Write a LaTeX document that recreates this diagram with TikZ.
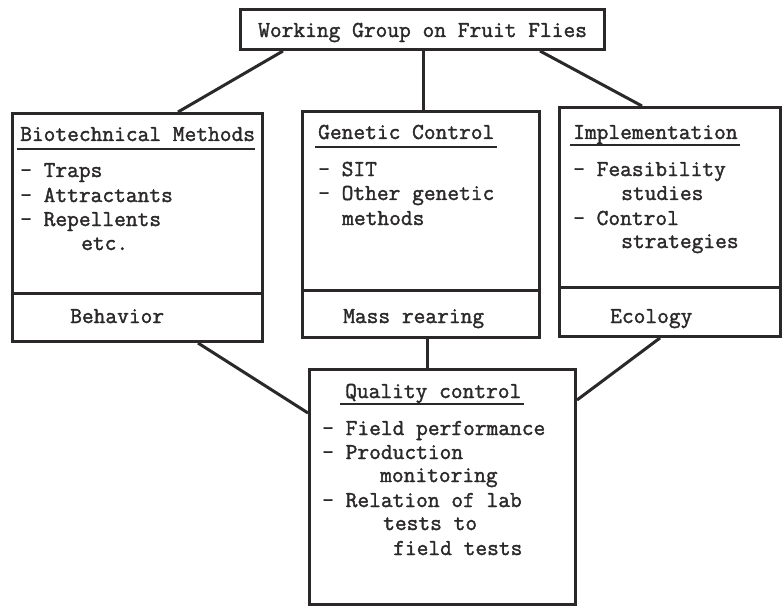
\documentclass[tikz,border=0pt]{standalone}
\usepackage{fontspec}
\usepackage{tikz}
\usetikzlibrary{calc}
\definecolor{ink}{RGB}{42,40,40}
\newfontfamily\twfont{lmmono12-regular.otf}[FakeBold=1.6]
\newcommand{\tw}{\fontsize{22.8}{24}\selectfont\twfont}
\tikzset{
  box/.style={draw=ink, line width=3pt, anchor=north west, inner sep=0pt},
  txt/.style={font=\tw, text=ink, anchor=base west, inner sep=0pt},
  conn/.style={ink, line width=3pt},
  uline/.style={ink, line width=2pt},
}

\begin{document}
\begin{tikzpicture}[x=1pt, y=-1pt]
  \useasboundingbox (0,0) rectangle (782,607);
  % boxes
  \node[box, minimum width=364pt, minimum height=40pt] (wg) at (239,8) {};
  \node[box, minimum width=250pt, minimum height=228pt] (bio) at (11,112) {};
  \node[box, minimum width=237pt, minimum height=226pt] (gen) at (301,110) {};
  \node[box, minimum width=221pt, minimum height=229pt] (imp) at (558,106) {};
  \node[box, minimum width=266pt, minimum height=235pt] (qc) at (308,368) {};
  \draw[conn] (bio.west |- 0,293) -- (bio.east |- 0,293);
  \draw[conn] (gen.west |- 0,290) -- (gen.east |- 0,290);
  \draw[conn] (imp.west |- 0,287) -- (imp.east |- 0,287);
  % connectors
  \draw[conn] ([xshift=44pt]wg.south west) -- ([xshift=167pt]bio.north west);
  \draw[conn] ([xshift=184pt]wg.south west) -- ([xshift=122pt]gen.north west);
  \draw[conn] ([xshift=301pt]wg.south west) -- ([xshift=84pt]imp.north west);
  \draw[conn] ([xshift=187pt]bio.south west) -- ([yshift=-45pt]qc.north west);
  \draw[conn] ([xshift=126pt]gen.south west) -- ([xshift=119pt]qc.north west);
  \draw[conn] ([xshift=102pt]imp.south west) -- ([yshift=-32pt]qc.north east);
  % title
  \node[txt] (wgTitle) at (258,37) {Working Group on Fruit Flies};
  % biotechnical
  \node[txt] (bioHead) at (20,141) {Biotechnical Methods};
  \node[txt] (bioA) at (20,177) {- Traps};
  \node[txt] (bioB) at (20,202) {- Attractants};
  \node[txt] (bioC) at (20,226) {- Repellents};
  \node[txt] (bioD) at (81,250) {etc.};
  \node[txt] (bioLow) at (70,323) {Behavior};
  % genetic
  \node[txt] (genHead) at (318,139) {Genetic Control};
  \node[txt] (genA) at (318,176) {- SIT};
  \node[txt] (genB) at (318,200) {- Other genetic};
  \node[txt] (genC) at (342,225) {methods};
  \node[txt] (genLow) at (343,323) {Mass rearing};
  % implementation
  \node[txt] (impHead) at (573,139) {Implementation};
  \node[txt] (impA) at (573,176) {- Feasibility};
  \node[txt] (impB) at (621,200) {studies};
  \node[txt] (impC) at (573,225) {- Control};
  \node[txt] (impD) at (621,248) {strategies};
  \node[txt] (impLow) at (610,323) {Ecology};
  % quality control
  \node[txt] (qcHead) at (345,398) {Quality control};
  \node[txt] (qcA) at (322,435) {- Field performance};
  \node[txt] (qcB) at (322,459) {- Production};
  \node[txt] (qcC) at (380,482) {monitoring};
  \node[txt] (qcD) at (322,507) {- Relation of lab};
  \node[txt] (qcE) at (383,530) {tests to};
  \node[txt] (qcF) at (393,555) {field tests};
  % underlines
  \draw[uline] ([shift={(-3pt,-8pt)}]bioHead.base west) -- ([yshift=-8pt]bioHead.base east);
  \draw[uline] ([shift={(-3pt,-8pt)}]genHead.base west) -- ([shift={(2pt,-8pt)}]genHead.base east);
  \draw[uline] ([shift={(-3pt,-6pt)}]impHead.base west) -- ([shift={(2pt,-6pt)}]impHead.base east);
  \draw[uline] ([shift={(-5pt,-6pt)}]qcHead.base west) -- ([shift={(2pt,-6pt)}]qcHead.base east);
\end{tikzpicture}
\end{document}
